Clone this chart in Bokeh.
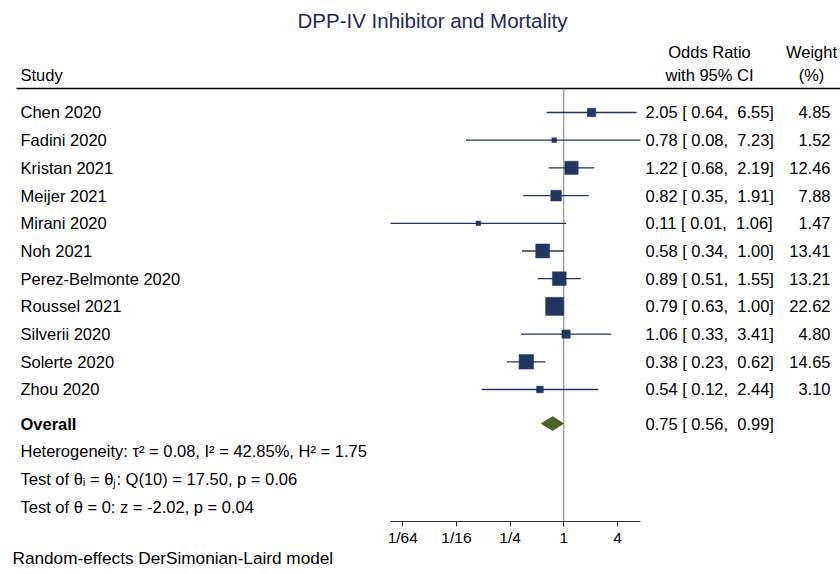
import numpy as np
from bokeh.plotting import figure
from bokeh.models import Range1d, Label, FixedTicker, LinearScale
from bokeh.embed import file_html
from bokeh.resources import INLINE

# ---------------- data ----------------
title = "DPP-IV Inhibitor and Mortality"
studies = ["Chen 2020", "Fadini 2020", "Kristan 2021", "Meijer 2021", "Mirani 2020",
           "Noh 2021", "Perez-Belmonte 2020", "Roussel 2021", "Silverii 2020",
           "Solerte 2020", "Zhou 2020"]
odds_ratio = [2.05, 0.78, 1.22, 0.82, 0.11, 0.58, 0.89, 0.79, 1.06, 0.38, 0.54]
ci_low = [0.64, 0.08, 0.68, 0.35, 0.01, 0.34, 0.51, 0.63, 0.33, 0.23, 0.12]
ci_high = [6.55, 7.23, 2.19, 1.91, 1.06, 1.00, 1.55, 1.00, 3.41, 0.62, 2.44]
weights = [4.85, 1.52, 12.46, 7.88, 1.47, 13.41, 13.21, 22.62, 4.80, 14.65, 3.10]
overall_label = "Overall"
overall = [0.75, 0.56, 0.99]  # estimate, low, high
stats_lines = [
    "Heterogeneity: \u03c4\u00b2 = 0.08, I\u00b2 = 42.85%, H\u00b2 = 1.75",
    "Test of \u03b8\u1d62 = \u03b8\u2c7c: Q(10) = 17.50, p = 0.06",
    "Test of \u03b8 = 0: z = -2.02, p = 0.04",
]
footer = "Random-effects DerSimonian-Laird model"
tick_vals = [1 / 64, 1 / 16, 1 / 4, 1, 4]
tick_labels = ["1/64", "1/16", "1/4", "1", "4"]
axis_bounds = [2 ** -6.457, 2 ** 2.858]
header_study = "Study"
header_or = ["Odds Ratio", "with 95% CI"]
header_w = ["Weight", "(%)"]

# ---------------- style ----------------
FONT = "Liberation Sans"
NAVY = "#233660"
OLIVE = "#4b6326"
TXT = "#000000"
FS = "16.5px"
W, H = 840, 574

rows = list(range(1, len(studies) + 1))
overall_row = rows[-1] + 1.23
stats_rows = [overall_row + 1.0 + i * 1.01 for i in range(len(stats_lines))]

# frame covers the whole canvas; x in log OR, y in row units
p = figure(width=W, height=H, x_axis_type="log",
           x_range=Range1d(2 ** -20.987, 2 ** 10.309),
           y_range=Range1d(17.679, -3.043),
           output_backend="svg", toolbar_location=None,
           min_border_left=0, min_border_right=0,
           min_border_top=0, min_border_bottom=0,
           y_axis_location=None, x_axis_location="below")
# helper ranges in pixel coordinates for text layout
p.extra_x_ranges = {"px": Range1d(0, W)}
p.extra_x_scales = {"px": LinearScale()}
p.extra_y_ranges = {"py": Range1d(H, 0)}
p.extra_y_scales = {"py": LinearScale()}
p.outline_line_color = None
p.grid.visible = False
p.background_fill_color = "white"
p.border_fill_color = "white"

ax = p.xaxis[0]
ax.fixed_location = 15.765
ax.bounds = tuple(axis_bounds)
ax.ticker = FixedTicker(ticks=tick_vals)
ax.major_label_overrides = {v: l for v, l in zip(tick_vals, tick_labels)}
ax.minor_tick_line_color = None
ax.major_tick_in = 0
ax.major_tick_out = 5
ax.major_label_standoff = 3
ax.axis_line_color = "#333333"
ax.major_tick_line_color = "#333333"
ax.major_label_text_font = FONT
ax.major_label_text_font_size = "15.5px"
ax.major_label_text_color = TXT

# header rule and reference line at OR = 1
p.segment(x0=[16], y0=[88], x1=[W], y1=[88], x_range_name="px", y_range_name="py",
          line_color="#000000", line_width=1.5)
p.segment(x0=[1], y0=[88], x1=[1], y1=[521], y_range_name="py",
          line_color="#808080", line_width=1)

# CIs (clipped to the axis extent) and squares
lo_draw = [max(l, axis_bounds[0]) for l in ci_low]
hi_draw = [min(u, axis_bounds[1]) for u in ci_high]
p.segment(x0=lo_draw, y0=rows, x1=hi_draw, y1=rows, line_color=NAVY, line_width=1.3)
sizes = [3.8 * np.sqrt(w) for w in weights]
p.scatter(x=odds_ratio, y=rows, size=sizes, marker="square",
          fill_color=NAVY, line_color=NAVY, line_width=0.5)

# overall diamond
est, olo, ohi = overall
h = 0.25
p.patch(x=[olo, est, ohi, est], y=[overall_row, overall_row - h, overall_row, overall_row + h],
        fill_color=OLIVE, line_color=OLIVE)


def lab(text, x, y, align="left", size=FS, color=TXT, style="normal", yr="default"):
    kw = dict(x=x, y=y, text=text, x_range_name="px", text_align=align,
              text_baseline="middle", text_font=FONT, text_font_size=size,
              text_color=color, text_font_style=style)
    if yr != "default":
        kw["y_range_name"] = yr
    p.add_layout(Label(**kw))


def fmt(e, l, u):
    return f"{e:.2f} [{l:5.2f}, {u:5.2f}]".replace(" ", "\u00a0")


# title and headers
lab(title, 432, 20, align="center", size="20.5px", color="#1e2a50", yr="py")
lab(header_study, 20, 74, yr="py")
lab(header_or[0], 709, 51, align="center", yr="py")
lab(header_or[1], 709, 74, align="center", yr="py")
lab(header_w[0], 811, 51, align="center", yr="py")
lab(header_w[1], 811, 74, align="center", yr="py")

# study rows
for s, r, e, l, u, w in zip(studies, rows, odds_ratio, ci_low, ci_high, weights):
    lab(s, 20, r)
    lab(fmt(e, l, u), 645, r)
    lab(f"{w:.2f}", 830, r, align="right")

lab(overall_label, 20, overall_row, style="bold")
lab(fmt(*overall), 645, overall_row)
for t, r in zip(stats_lines, stats_rows):
    lab(t, 20, r)

lab(footer, 12, 557, size="17.2px", yr="py")

open("out.html", "w").write(file_html(p, INLINE))
